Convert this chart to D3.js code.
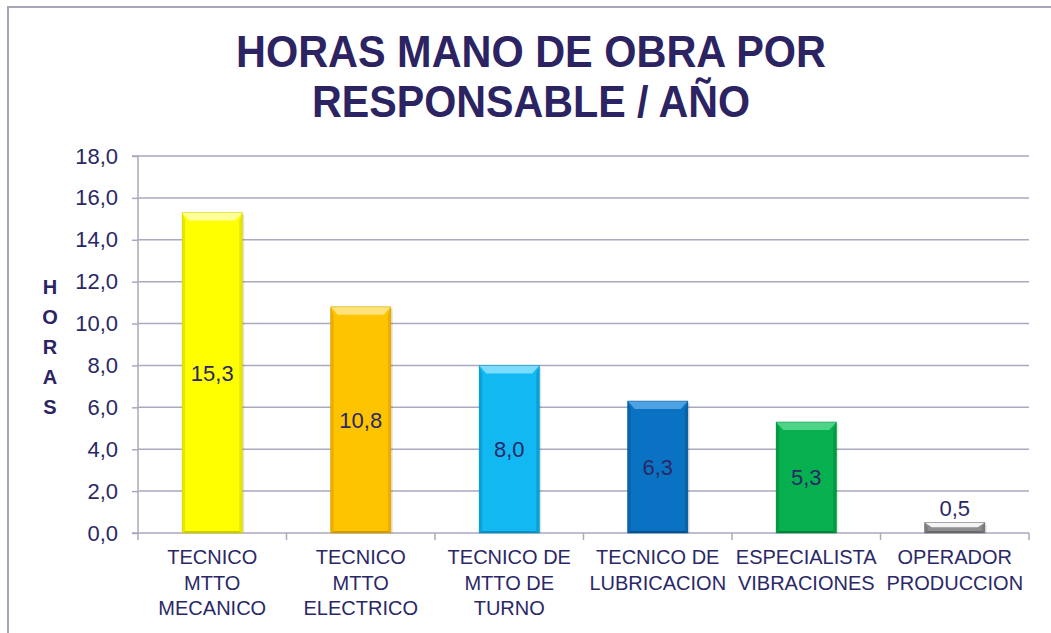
<!DOCTYPE html>
<html>
<head>
<meta charset="utf-8">
<script src="https://cdn.jsdelivr.net/npm/d3@7"></script>
<style>
  html, body { margin: 0; padding: 0; background: #ffffff; }
  svg { display: block; font-family: "Liberation Sans", Arial, sans-serif; }
</style>
</head>
<body>
<svg id="chart" width="1051" height="633"></svg>
<script>
// ---- data ----
const categories = [
  "TECNICO\nMTTO\nMECANICO",
  "TECNICO\nMTTO\nELECTRICO",
  "TECNICO DE\nMTTO DE\nTURNO",
  "TECNICO DE\nLUBRICACION",
  "ESPECIALISTA\nVIBRACIONES",
  "OPERADOR\nPRODUCCION"
];
const values = [15.3, 10.8, 8.0, 6.3, 5.3, 0.5];
const yTicks = [0, 2, 4, 6, 8, 10, 12, 14, 16, 18];
const titleLines = ["HORAS MANO DE OBRA POR", "RESPONSABLE / AÑO"];
const yAxisTitle = "HORAS";
const barColors = [
  { main: "#ffff00", top: "#ffff9a", side: "#e6e600", bottom: "#cdcd00" },
  { main: "#ffc400", top: "#ffe27a", side: "#eeae00", bottom: "#d09a00" },
  { main: "#12b8f2", top: "#7adcff", side: "#06a2da", bottom: "#0890c0" },
  { main: "#0a72c2", top: "#4ea2e2", side: "#0763aa", bottom: "#05548f" },
  { main: "#06b04e", top: "#4fd386", side: "#039a44", bottom: "#028538" },
  { main: "#8e8e8e", top: "#f4f4f4", side: "#7a7a7a", bottom: "#686868" }
];

// ---- layout ----
const svg = d3.select("#chart");
const W = 1051, H = 633;
const plot = { left: 138, right: 1029, top: 156, bottom: 533 };
const textColor = "#2a2866";
const gridColor = "#a9a9bf";

const fmt = d3.formatLocale({ decimal: ",", thousands: ".", grouping: [3], currency: ["", ""] }).format(".1f");

const x = d3.scaleBand().domain(categories).range([plot.left, plot.right]).padding(0);
const y = d3.scaleLinear().domain([0, 18]).range([plot.bottom, plot.top]);

// outer frame
svg.append("rect")
  .attr("x", 8).attr("y", 7).attr("width", W + 10).attr("height", H + 10)
  .attr("fill", "none").attr("stroke", "#a6a6b4").attr("stroke-width", 2);

// title
const title = svg.append("g");
title.selectAll("text").data(titleLines).enter().append("text")
  .attr("x", 531)
  .attr("y", (d, i) => 67 + i * 50)
  .attr("text-anchor", "middle")
  .attr("font-size", 44)
  .attr("font-weight", "bold")
  .attr("fill", "#2c2362")
  .attr("textLength", (d, i) => i === 0 ? 590 : 438)
  .attr("lengthAdjust", "spacingAndGlyphs")
  .text(d => d);

// gridlines
svg.append("g").selectAll("line").data(yTicks.filter(t => t > 0)).enter().append("line")
  .attr("x1", plot.left).attr("x2", plot.right)
  .attr("y1", d => y(d)).attr("y2", d => y(d))
  .attr("stroke", gridColor).attr("stroke-width", 1.5);

// y axis
const yAxis = d3.axisLeft(y).tickValues(yTicks).tickSize(6).tickPadding(14).tickFormat(fmt);
const gy = svg.append("g").attr("transform", `translate(${plot.left},0)`).call(yAxis);
gy.select(".domain").attr("stroke", gridColor).attr("stroke-width", 1.5).attr("d", `M-6,${plot.bottom}H0V${plot.top}H-6`);
gy.selectAll(".tick line").attr("stroke", gridColor).attr("stroke-width", 1.5);
gy.selectAll(".tick text").attr("fill", textColor).attr("font-size", 22)
  .attr("font-family", "'Liberation Sans', Arial, sans-serif");

// x axis
const gx = svg.append("g").attr("transform", `translate(0,${plot.bottom})`);
gx.append("line").attr("x1", plot.left).attr("x2", plot.right).attr("y1", 0).attr("y2", 0)
  .attr("stroke", gridColor).attr("stroke-width", 1.5);
const boundaries = categories.map(c => x(c)).concat([x(categories[categories.length - 1]) + x.bandwidth()]);
gx.selectAll("line.tk").data(boundaries).enter().append("line").attr("class", "tk")
  .attr("x1", d => d).attr("x2", d => d).attr("y1", 0).attr("y2", 7)
  .attr("stroke", gridColor).attr("stroke-width", 1.5);

// x labels
const xl = svg.append("g");
categories.forEach(c => {
  const lines = c.split("\n");
  const t = xl.append("text")
    .attr("x", x(c) + x.bandwidth() / 2)
    .attr("y", 564)
    .attr("text-anchor", "middle")
    .attr("font-size", 20)
    .attr("fill", textColor);
  lines.forEach((ln, i) => {
    t.append("tspan").attr("x", x(c) + x.bandwidth() / 2).attr("y", 564 + i * 25.5).text(ln);
  });
});

// y axis title (vertical stacked letters)
svg.append("g").selectAll("text").data(yAxisTitle.split("")).enter().append("text")
  .attr("x", 50)
  .attr("y", (d, i) => 294 + i * 30)
  .attr("text-anchor", "middle")
  .attr("font-size", 20)
  .attr("font-weight", "bold")
  .attr("fill", "#2c2362")
  .text(d => d);

// bars with bevel
const barFrac = 0.405;
const bars = svg.append("g");
values.forEach((v, i) => {
  const c = categories[i];
  const bw = x.bandwidth() * barFrac;
  const bx = x(c) + (x.bandwidth() - bw) / 2;
  const by = y(v);
  const bh = y(0) - y(v);
  const col = barColors[i];
  const g = bars.append("g");
  const bev = Math.min(8, bh * 0.45);
  const side = Math.min(3, bw * 0.06);
  const bot = Math.min(2, bh * 0.2);
  // shadow
  g.append("rect").attr("x", bx + 2).attr("y", by + 2).attr("width", bw).attr("height", bh - 2)
    .attr("fill", "#000").attr("opacity", 0.1);
  g.append("rect").attr("x", bx).attr("y", by).attr("width", bw).attr("height", bh).attr("fill", col.main);
  // left & right edges
  g.append("polygon")
    .attr("points", [[bx, by], [bx + side, by + bev], [bx + side, by + bh - bot], [bx, by + bh]].map(p => p.join(",")).join(" "))
    .attr("fill", col.side);
  g.append("polygon")
    .attr("points", [[bx + bw, by], [bx + bw - side, by + bev], [bx + bw - side, by + bh - bot], [bx + bw, by + bh]].map(p => p.join(",")).join(" "))
    .attr("fill", col.side);
  // bottom edge
  g.append("polygon")
    .attr("points", [[bx, by + bh], [bx + side, by + bh - bot], [bx + bw - side, by + bh - bot], [bx + bw, by + bh]].map(p => p.join(",")).join(" "))
    .attr("fill", col.bottom);
  // top bevel
  g.append("polygon")
    .attr("points", [[bx, by], [bx + bw, by], [bx + bw - side - 4, by + bev], [bx + side + 4, by + bev]].map(p => p.join(",")).join(" "))
    .attr("fill", col.top);
  g.append("rect").attr("x", bx).attr("y", by).attr("width", bw).attr("height", bh)
    .attr("fill", "none").attr("stroke", col.bottom).attr("stroke-width", 0.8).attr("opacity", 0.6);
});

// value labels
svg.append("g").selectAll("text").data(values).enter().append("text")
  .attr("x", (d, i) => x(categories[i]) + x.bandwidth() / 2)
  .attr("y", d => {
    const bh = y(0) - y(d);
    return bh > 30 ? (y(d) + y(0)) / 2 + 8 : y(d) - 7;
  })
  .attr("text-anchor", "middle")
  .attr("font-size", 22)
  .attr("fill", textColor)
  .text(d => fmt(d));
</script>
</body>
</html>
